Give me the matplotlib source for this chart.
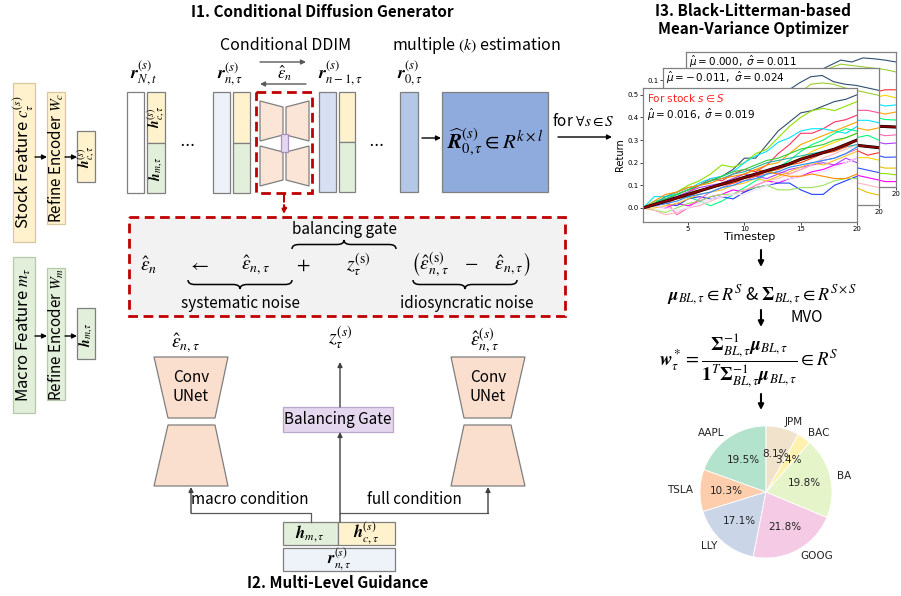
"""
plot.py
-------
Redraws the conditional diffusion / Black-Litterman pipeline figure.
"""

import matplotlib
matplotlib.use("Agg")   # no display in the sandbox
import matplotlib.pyplot as plt
from matplotlib.patches import Rectangle, Polygon, PathPatch
from matplotlib.path import Path

plt.rcParams["font.family"] = ["Noto Sans CJK KR", "DejaVu Sans"]
plt.rcParams["mathtext.fontset"] = "stix"

W, H = 901, 596

# ---------------------------------------------------------------- data
timesteps = list(range(1, 21))

front_colors = ["#2f4f6f", "#8fe000", "#ff3060", "#00e5ff", "#ffa500",
                "#ffd700", "#00ff7f", "#ff00ff", "#2040ff", "#9be35a",
                "#ff69b4", "#b040ff", "#ffb6c1", "#20b2aa", "#ff4500",
                "#ffc125", "#32cd32", "#f0e0ff", "#1e90ff", "#ff8c00"]
front_paths = [
    [0, .02, .04, .06, .08, .10, .12, .14, .17, .22, .22, .28, .34, .38, .42, .43, .45, .47, .48, .50],
    [0, .02, .05, .07, .10, .12, .15, .19, .18, .20, .24, .26, .31, .36, .40, .43, .44, .43, .45, .47],
    [0, .01, .03, .05, .07, .10, .13, .12, .15, .17, .16, .19, .24, .28, .33, .33, .35, .38, .39, .41],
    [0, .05, .05, .06, .08, .11, .13, .14, .16, .20, .23, .25, .29, .31, .34, .35, .35, .34, .33, .36],
    [0, .01, .03, .04, .06, .08, .09, .11, .13, .15, .17, .19, .20, .24, .28, .30, .32, .34, .36, .38],
    [0, .02, .03, .05, .07, .08, .09, .10, .12, .14, .15, .16, .18, .20, .22, .25, .27, .29, .31, .33],
    [0, .03, .04, .06, .05, .03, .01, .03, .06, .09, .12, .15, .18, .21, .25, .28, .30, .33, .35, .34],
    [0, .01, .00, .02, .01, .03, .05, .06, .08, .07, .10, .12, .11, .13, .14, .16, .17, .19, .20, .22],
    [0, .01, .02, .01, .04, .05, .04, .05, .04, .07, .09, .10, .11, .11, .08, .06, .06, .10, .12, .14],
    [0, -.01, -.02, .00, .02, .03, .05, .06, .06, .08, .09, .10, .08, .08, .09, .09, .10, .12, .13, .13],
    [0, .02, .03, -.03, .00, .04, .07, .09, .11, .12, .14, .15, .16, .15, .17, .19, .21, .22, .24, .26],
    [0, .02, .04, .05, .07, .09, .10, .11, .13, .15, .14, .13, .15, .17, .18, .19, .20, .19, .22, .20],
    [0, -.01, -.03, -.02, .00, .01, .03, .05, .06, .08, .10, .12, .13, .15, .17, .19, .22, .24, .26, .28],
    [0, .02, .05, .07, .09, .10, .12, .13, .15, .16, .18, .20, .21, .22, .23, .24, .25, .26, .27, .28],
    [0, .01, .02, .04, .05, .07, .09, .10, .11, .13, .14, .16, .17, .19, .20, .22, .24, .25, .27, .30],
    [0, .00, .01, .02, .04, .06, .07, .08, .10, .11, .13, .12, .14, .16, .18, .20, .19, .21, .23, .25],
    [0, .02, .04, .06, .08, .10, .12, .14, .16, .17, .19, .21, .22, .24, .26, .27, .28, .30, .31, .33],
    [0, .01, .00, -.01, .00, .02, .04, .05, .06, .06, .08, .10, .12, .13, .14, .15, .16, .18, .20, .22],
    [0, .01, .02, .03, .05, .06, .07, .09, .10, .12, .13, .15, .16, .18, .19, .20, .21, .22, .24, .27],
    [0, .03, .06, .07, .09, .10, .11, .13, .14, .15, .17, .16, .15, .14, .14, .15, .14, .13, .13, .15],
]
front_mean = [0, .015, .03, .045, .06, .075, .09, .105, .12, .135,
              .15, .165, .18, .195, .215, .23, .245, .26, .28, .30]

back1_colors = ["#2f4f6f", "#9acd32", "#ff4f9a", "#00e5ff", "#ffa500", "#00ff7f",
                "#ff3030", "#ffd700", "#3050ff", "#ff00ff", "#ffb6c1", "#e6c200"]
back1_paths = [
    [0, .01, .00, .02, .01, .03, .02, .04, .03, .05, .04, .06, .09, .115, .12, .095, .085, .08, .07, .06],
    [0, -.01, .01, .00, .02, .01, .03, .02, .04, .03, .05, .04, .05, .085, .09, .085, .07, .06, .05, .04],
    [0, -.01, -.02, -.01, -.02, -.03, -.02, -.01, -.03, -.02, -.01, -.02, -.03, -.02, -.01, -.02, -.03, -.02, -.02, -.03],
    [0, -.01, -.02, -.03, -.02, -.03, -.04, -.03, -.05, -.04, -.05, -.06, -.05, -.06, -.07, -.06, -.07, -.06, -.06, -.07],
    [0, -.01, -.02, -.02, -.03, -.04, -.04, -.05, -.05, -.06, -.06, -.07, -.07, -.08, -.08, -.09, -.08, -.09, -.10, -.09],
    [0, -.01, -.02, -.03, -.04, -.05, -.06, -.07, -.07, -.08, -.09, -.10, -.10, -.11, -.12, -.12, -.13, -.13, -.12, -.14],
    [0, -.01, -.03, -.04, -.05, -.07, -.08, -.09, -.10, -.11, -.12, -.13, -.14, -.15, -.16, -.17, -.17, -.18, -.20, -.19],
    [0, -.02, -.03, -.05, -.06, -.08, -.09, -.10, -.12, -.13, -.14, -.15, -.16, -.17, -.18, -.19, -.20, -.21, -.21, -.22],
    [0, -.02, -.04, -.05, -.07, -.08, -.10, -.11, -.13, -.14, -.16, -.17, -.19, -.20, -.22, -.23, -.24, -.25, -.26, -.27],
    [0, -.02, -.04, -.06, -.08, -.09, -.11, -.13, -.14, -.16, -.18, -.19, -.21, -.22, -.24, -.25, -.27, -.28, -.29, -.30],
    [0, -.02, -.04, -.06, -.08, -.10, -.12, -.14, -.16, -.18, -.20, -.21, -.23, -.25, -.26, -.28, -.29, -.31, -.32, -.33],
    [0, -.02, -.05, -.07, -.09, -.11, -.13, -.15, -.17, -.19, -.21, -.23, -.25, -.27, -.28, -.30, -.32, -.33, -.35, -.36],
]
back1_mean = [0, -.01, -.02, -.03, -.04, -.05, -.06, -.07, -.08, -.09,
              -.10, -.11, -.12, -.12, -.13, -.14, -.15, -.16, -.165, -.17]

back2_colors = ["#2f4f6f", "#9acd32", "#ff3030", "#ffd700", "#00e5ff", "#ffa500", "#00ff7f",
                "#ff69b4", "#b040ff", "#3050ff", "#e6c200", "#8fe000", "#ff00ff"]
back2_paths = [
    [0, .01, .02, .04, .05, .07, .08, .10, .11, .13, .14, .16, .18, .20, .22, .213, .228, .225, .22, .213],
    [0, .01, .02, .03, .05, .06, .08, .09, .11, .12, .14, .15, .17, .19, .205, .20, .195, .19, .185, .176],
    [0, .01, .01, .02, .03, .03, .04, .05, .05, .06, .07, .07, .08, .08, .09, .09, .10, .10, .11, .11],
    [0, .00, .01, .02, .02, .03, .03, .04, .04, .05, .05, .06, .06, .07, .07, .07, .08, .08, .09, .08],
    [0, .01, .00, .01, .02, .01, .02, .03, .02, .03, .04, .03, .04, .05, .04, .05, .05, .06, .05, .054],
    [0, .00, .01, .00, .01, .02, .01, .02, .01, .02, .03, .02, .03, .02, .03, .02, .03, .03, .02, .028],
    [0, -.01, .00, -.01, .00, .01, .00, -.01, .00, .01, .00, -.01, .00, .01, .00, -.01, .00, .01, .00, -.002],
    [0, -.01, -.01, -.02, -.02, -.03, -.02, -.03, -.03, -.04, -.04, -.04, -.05, -.04, -.05, -.05, -.06, -.05, -.06, -.057],
    [0, -.01, -.02, -.02, -.03, -.03, -.04, -.04, -.05, -.05, -.06, -.06, -.07, -.07, -.07, -.08, -.08, -.08, -.09, -.087],
    [0, -.01, -.02, -.03, -.04, -.05, -.06, -.06, -.07, -.08, -.09, -.10, -.10, -.11, -.12, -.12, -.13, -.13, -.14, -.139],
    [0, -.01, -.02, -.04, -.05, -.06, -.07, -.08, -.09, -.10, -.11, -.12, -.13, -.14, -.15, -.16, -.16, -.17, -.18, -.18],
    [0, -.02, -.03, -.04, -.06, -.07, -.08, -.09, -.11, -.12, -.13, -.14, -.15, -.16, -.17, -.18, -.19, -.20, -.20, -.205],
    [0, -.02, -.03, -.05, -.06, -.08, -.09, -.10, -.12, -.13, -.14, -.16, -.17, -.18, -.19, -.20, -.21, -.22, -.23, -.23],
]
back2_mean = [0, .00, -.002, -.004, -.006, -.008, -.01, -.012, -.013, -.014,
              -.016, -.017, -.018, -.02, -.021, -.022, -.024, -.025, -.026, -.028]

panel_stats = [("0.016", "0.019"), ("-0.011", "0.024"), ("0.000", "0.011")]

pie_labels = ["AAPL", "TSLA", "LLY", "GOOG", "BA", "BAC", "JPM"]
pie_weights = [19.5, 10.3, 17.1, 21.8, 19.8, 3.4, 8.1]
pie_colors = ["#b3e2cd", "#fdcdac", "#cbd5e8", "#f4cae4", "#e6f5c9", "#fff2ae", "#f1e2cc"]

YELLOW, GREEN = "#fff2cc", "#e2efda"
EDGE = "#7f7f7f"
RED = "#c00000"

# ---------------------------------------------------------------- canvas
fig = plt.figure(figsize=(W / 100, H / 100), dpi=100)
ax = fig.add_axes([0, 0, 1, 1])
ax.set_xlim(0, W)
ax.set_ylim(H, 0)
ax.axis("off")


def box(x0, y0, x1, y1, fc, ec=EDGE, lw=0.9, **kw):
    ax.add_patch(Rectangle((x0, y0), x1 - x0, y1 - y0, fc=fc, ec=ec, lw=lw, **kw))


def poly(pts, fc="#fbe5d6", ec=EDGE):
    ax.add_patch(Polygon(pts, closed=True, fc=fc, ec=ec, lw=0.9))


def arrow(x0, y0, x1, y1, color="black", lw=1.0, ms=7, ls="-"):
    ax.annotate("", xy=(x1, y1), xytext=(x0, y0),
                arrowprops=dict(arrowstyle="-|>", color=color, lw=lw, linestyle=ls,
                                mutation_scale=ms, shrinkA=0, shrinkB=0))


def txt(x, y, s, size=11, **kw):
    kw.setdefault("ha", "center")
    kw.setdefault("va", "center")
    ax.text(x, y, s, fontsize=size, **kw)


def brace(x0, x1, y, h, up=False):
    # curly brace with tips at y, middle point h pixels away
    d = -h if up else h
    xm, r = (x0 + x1) / 2, 7
    verts = [(x0, y), (x0, y + d / 2), (x0 + r, y + d / 2),
             (xm - r, y + d / 2),
             (xm, y + d / 2), (xm, y + d),
             (xm, y + d / 2), (xm + r, y + d / 2),
             (x1 - r, y + d / 2),
             (x1, y + d / 2), (x1, y)]
    codes = [Path.MOVETO, Path.CURVE3, Path.CURVE3, Path.LINETO,
             Path.CURVE3, Path.CURVE3, Path.CURVE3, Path.CURVE3,
             Path.LINETO, Path.CURVE3, Path.CURVE3]
    ax.add_patch(PathPatch(Path(verts, codes), fc="none", ec="black", lw=1.1))


# ---------------------------------------------------------------- left: feature encoders
box(13, 83, 35, 242, YELLOW, ec="#d8c8a0")
txt(24, 162, r"Stock Feature $c_\tau^{(s)}$", 12, rotation=90)
box(47, 92, 65, 224, YELLOW, ec="#d8c8a0")
txt(56, 158, r"Refine Encoder $W_c$", 11, rotation=90)
box(77, 131, 95, 182, YELLOW)
txt(86, 157, r"$\mathbfit{h}_{c,\tau}^{(s)}$", 10, rotation=90)
arrow(35, 157, 47, 157)
arrow(65, 157, 77, 157)

box(13, 257, 35, 413, GREEN, ec="#b8c8aa")
txt(24, 335, r"Macro Feature $m_\tau$", 12, rotation=90)
box(47, 268, 65, 400, GREEN, ec="#b8c8aa")
txt(56, 334, r"Refine Encoder $W_m$", 11, rotation=90)
box(77, 308, 95, 359, GREEN)
txt(86, 334, r"$\mathbfit{h}_{m,\tau}$", 10, rotation=90)
arrow(35, 336, 47, 336)
arrow(65, 336, 77, 336)

# ---------------------------------------------------------------- I1: diffusion chain
txt(322, 12, "I1. Conditional Diffusion Generator", 11, weight="bold")
txt(286, 46, "Conditional DDIM", 11.5)
txt(476, 46, r"multiple $(k)$ estimation", 11.5)

for x, lab in [(143, r"N,t"), (230, r"n,\tau"), (340, r"n-1,\tau"), (410, r"0,\tau")]:
    txt(x, 74, r"$\mathbfit{r}_{%s}^{(s)}$" % lab, 13)

box(127, 92, 144, 193, "white")
box(147, 92, 165, 143, YELLOW)
box(147, 143, 165, 193, GREEN)
txt(156, 117, r"$\mathbfit{h}_{c,\tau}^{(s)}$", 10, rotation=90)
txt(156, 168, r"$\mathbfit{h}_{m,\tau}$", 10, rotation=90)
txt(187, 143, r"$\cdots$", 12)

box(213, 92, 230, 193, "#edf2fa")
box(233, 92, 250, 143, YELLOW)
box(233, 143, 250, 193, GREEN)

# small U-Net inside the dashed frame
poly([(260, 101), (283, 107), (283, 135), (260, 141)])
poly([(286, 107), (309, 101), (309, 141), (286, 135)])
poly([(260, 146), (283, 152), (283, 180), (260, 186)])
poly([(286, 152), (309, 146), (309, 186), (286, 180)])
box(281, 134, 288, 152, "#e4d7ef", ec="#a890c0")
box(256, 92, 312, 193, "none", ec=RED, lw=2, ls=(0, (3.5, 2)))

arrow(260, 62, 306, 62, color="#595959")
arrow(306, 84, 260, 84, color="#595959")
txt(285, 73, r"$\hat{\epsilon}_n$", 12)

box(319, 92, 336, 192, "#d6e0f2")
box(339, 92, 355, 142, YELLOW)
box(339, 142, 355, 192, GREEN)
txt(376, 143, r"$\cdots$", 12)

box(400, 92, 418, 192, "#b4c7e7")
arrow(422, 138, 441, 138)
box(442, 92, 548, 192, "#8faadc")
txt(495, 142, r"$\widehat{\mathbfit{R}}_{0,\tau}^{(s)}\in R^{k\times l}$", 15)
txt(552, 121, r"for $\forall s\in S$", 11, ha="left")
arrow(558, 137, 612, 137)

arrow(284, 194, 284, 214, color=RED, lw=1.5, ls="--")

# dashed explanation box
box(129, 217, 565, 316, "#f2f2f2", ec=RED, lw=2, ls=(0, (3.5, 2)))
fy = 265
txt(149, fy, r"$\hat{\epsilon}_n$", 14)
txt(199, fy, r"$\leftarrow$", 14)
txt(255, fy, r"$\hat{\varepsilon}_{n,\tau}$", 14)
txt(303, fy, r"$+$", 14)
txt(358, fy, r"$z_\tau^{(\mathrm{s})}$", 14)
txt(471, fy, r"$\left(\hat{\varepsilon}_{n,\tau}^{(\mathrm{s})}\quad-\quad\hat{\varepsilon}_{n,\tau}\right)$", 14)
brace(292, 396, 249, 9, up=True)
brace(188, 292, 280, 9)
brace(413, 517, 280, 9)
txt(344, 229, "balancing gate", 11)
txt(240, 304, "systematic noise", 11)
txt(467, 304, "idiosyncratic noise", 11)

# ---------------------------------------------------------------- I2: multi-level guidance
UNET = "#fadfcf"
for xl, xr, xil, xir in [(154, 228, 168, 215), (451, 525, 464, 511)]:
    poly([(xl, 357), (xr, 357), (xir, 418), (xil, 418)], fc=UNET)
    poly([(xil, 425), (xir, 425), (xr, 486), (xl, 486)], fc=UNET)
    txt((xl + xr) / 2, 387, "Conv\nUNet", 11, linespacing=1.1)
txt(185, 343, r"$\hat{\varepsilon}_{n,\tau}$", 14)
txt(484, 341, r"$\hat{\varepsilon}_{n,\tau}^{(s)}$", 14)
txt(340, 338, r"$z_\tau^{(s)}$", 14)

box(283, 407, 393, 432, "#e4d7ef", ec="#b8a6cc")
txt(338, 419, "Balancing Gate", 11)
arrow(340, 407, 340, 362, color="#404040")
arrow(340, 522, 340, 432, color="#404040")

ax.plot([311, 311, 191], [522, 513, 513], color="#595959", lw=0.9)
arrow(191, 513, 191, 487, color="#404040")
ax.plot([340, 488], [513, 513], color="#595959", lw=0.9)
arrow(488, 513, 488, 487, color="#404040")
txt(250, 499, "macro condition", 11)
txt(414, 499, "full condition", 11)

box(283, 522, 338, 545, GREEN)
box(338, 522, 395, 545, YELLOW)
txt(310, 534, r"$\mathbfit{h}_{m,\tau}$", 12)
txt(366, 533, r"$\mathbfit{h}_{c,\tau}^{(s)}$", 12)
box(283, 548, 395, 571, "#eef2f9")
txt(339, 559, r"$\mathbfit{r}_{n,\tau}^{(s)}$", 12)
txt(338, 583, "I2. Multi-Level Guidance", 11, weight="bold")

# ---------------------------------------------------------------- I3: simulated paths
txt(753, 11, "I3. Black-Litterman-based", 11, weight="bold")
txt(753, 29, "Mean-Variance Optimizer", 11, weight="bold")


def panel(left, top, right, bottom, z, paths, colors, mean, ylim, xticks, yticks, stat, tag=False):
    pa = fig.add_axes([left / W, 1 - bottom / H, (right - left) / W, (bottom - top) / H], zorder=z)
    for vals, c in zip(paths, colors):
        pa.plot(timesteps, vals, color=c, lw=0.8)
    pa.plot(timesteps, mean, color="black", lw=2.2)
    pa.plot(timesteps, mean, color="#8b0000", lw=1.4)
    pa.set_xlim(1, 20)
    pa.set_ylim(*ylim)
    pa.set_xticks(xticks)
    pa.set_yticks(yticks)
    pa.tick_params(labelsize=5, length=2, width=0.5, pad=1)
    for lab in pa.get_xticklabels() + pa.get_yticklabels():
        lab.set_fontfamily("DejaVu Sans")
    for sp in pa.spines.values():
        sp.set_color("#808080")
        sp.set_linewidth(0.9)
    line = r"$\hat{\mu} = %s,\ \hat{\sigma} = %s$" % (stat[0].replace("-", "-\\,"), stat[1])
    if tag:
        pa.text(0.02, 0.97, r"For stock $s\in S$", transform=pa.transAxes, fontsize=7.5,
                color="#ff2020", va="top", family="DejaVu Sans", math_fontfamily="dejavusans")
        pa.text(0.02, 0.86, line, transform=pa.transAxes, fontsize=7.5,
                va="top", family="DejaVu Sans", math_fontfamily="dejavusans")
    else:
        pa.text(0.015, 0.985, line, transform=pa.transAxes, fontsize=7.5,
                va="top", family="DejaVu Sans", math_fontfamily="dejavusans")
    return pa


# the two panels behind only show the ticks that peek out from under the front one
panel(686, 52, 896, 187, 2, back2_paths, back2_colors, back2_mean,
      (-0.25, 0.25), [20], [], panel_stats[2])
panel(663, 68, 879, 205, 3, back1_paths, back1_colors, back1_mean,
      (-0.40, 0.15), [20], [0.1], panel_stats[1])
front = panel(643, 88, 857, 222, 4, front_paths, front_colors, front_mean,
              (-0.062, 0.53), [5, 10, 15, 20], [0.0, 0.1, 0.2, 0.3, 0.4, 0.5],
              panel_stats[0], tag=True)
front.set_xlabel("Timestep", fontsize=8, labelpad=0, family="DejaVu Sans")
front.set_ylabel("Return", fontsize=7, labelpad=2, family="DejaVu Sans")

# ---------------------------------------------------------------- BL + MVO
arrow(761, 250, 761, 267, ms=8, lw=1.5)
txt(762, 295, r"$\mathbfit{\mu}_{BL,\tau}\in R^S$ & $\mathbf{\Sigma}_{BL,\tau}\in R^{S\times S}$", 13)
arrow(761, 310, 761, 327, ms=8, lw=1.5)
txt(807, 318, "MVO", 11)
txt(749, 361, r"$\mathbfit{w}_\tau^* = \dfrac{\mathbf{\Sigma}_{BL,\tau}^{-1}\mathbfit{\mu}_{BL,\tau}}"
              r"{\mathbf{1}^T\mathbf{\Sigma}_{BL,\tau}^{-1}\mathbfit{\mu}_{BL,\tau}}\in R^S$", 13.5)
arrow(761, 394, 761, 410, ms=8, lw=1.5)

# ---------------------------------------------------------------- portfolio weights
pie_ax = fig.add_axes([700 / W, 1 - 558 / H, 132 / W, 132 / H], zorder=2)
pie_ax.pie(pie_weights, labels=pie_labels, colors=pie_colors, startangle=90,
           autopct="%.1f%%", wedgeprops=dict(edgecolor="white", linewidth=0.6),
           textprops=dict(fontsize=7.5, color="#222222", family="DejaVu Sans"))
pie_ax.set_xlim(-1, 1)
pie_ax.set_ylim(-1, 1)

fig.savefig("out.png", dpi=100)
